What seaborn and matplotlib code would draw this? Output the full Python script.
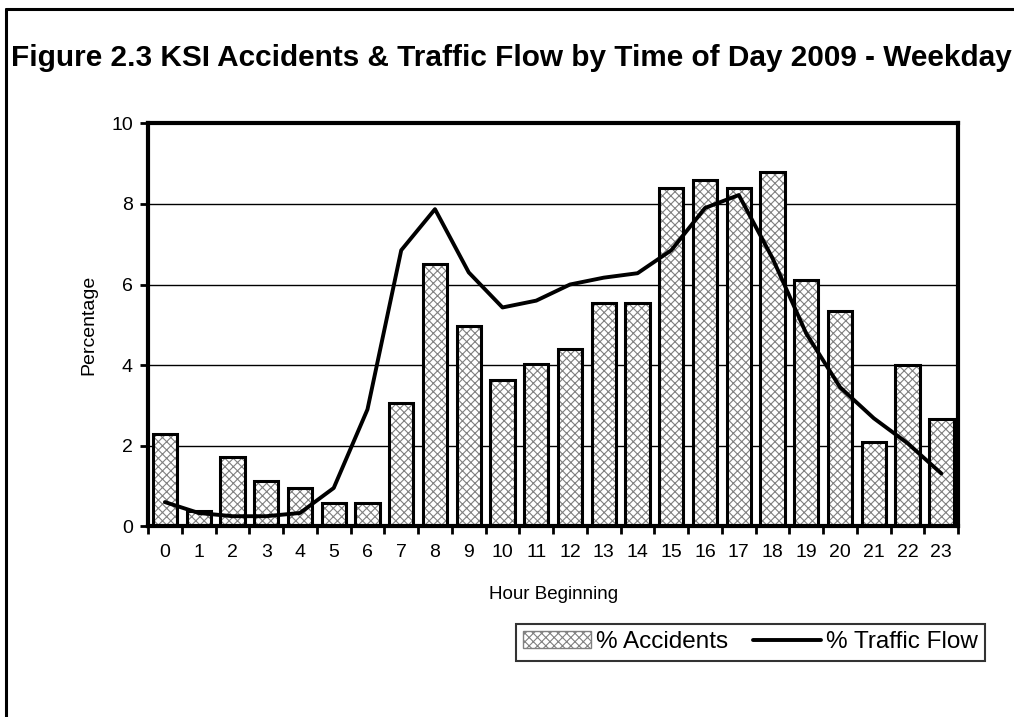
import matplotlib
matplotlib.use("Agg")
import matplotlib.pyplot as plt
from matplotlib.patches import Rectangle, Patch
from matplotlib.lines import Line2D
import seaborn as sns

hours = list(range(24))
accidents = [2.3, 0.37, 1.72, 1.13, 0.95, 0.57, 0.57, 3.05, 6.5, 4.97, 3.63, 4.02,
             4.4, 5.55, 5.55, 8.4, 8.6, 8.4, 8.8, 6.1, 5.35, 2.1, 4.0, 2.67]
traffic = [0.6, 0.33, 0.25, 0.25, 0.33, 0.95, 2.9, 6.85, 7.87, 6.3, 5.43, 5.6,
           6.0, 6.17, 6.28, 6.85, 7.9, 8.22, 6.65, 4.78, 3.45, 2.68, 2.06, 1.31]
title = "Figure 2.3 KSI Accidents & Traffic Flow by Time of Day 2009 - Weekday"

sns.set_theme(style="white")
plt.rcParams["font.family"] = ["Liberation Sans", "DejaVu Sans"]
plt.rcParams["hatch.color"] = "#808080"
plt.rcParams["hatch.linewidth"] = 0.8
for k in ["text.color", "axes.labelcolor", "xtick.color", "ytick.color"]:
    plt.rcParams[k] = "black"

fig = plt.figure(figsize=(10.14, 7.17), dpi=100)
ax = fig.add_axes([0.146, 0.266, 0.799, 0.562])

sns.barplot(x=hours, y=accidents, color="white", edgecolor="#808080",
            linewidth=0, width=0.72, saturation=1, ax=ax, zorder=2)
for p in list(ax.patches):
    p.set_hatch("xxxx")
    p.set_facecolor("white")
    ax.add_patch(Rectangle(p.get_xy(), p.get_width(), p.get_height(), fill=False,
                           edgecolor="black", linewidth=2.2, zorder=3))

sns.lineplot(x=hours, y=traffic, color="black", linewidth=2.8, ax=ax, zorder=4)

ax.set_xlim(-0.5, 23.5)
ax.set_ylim(0, 10)
ax.set_yticks([0, 2, 4, 6, 8, 10])
ax.yaxis.grid(True, color="black", linewidth=1)
ax.set_axisbelow(True)
for s in ax.spines.values():
    s.set_visible(True)
    s.set_color("black")
    s.set_linewidth(3)

ax.set_xticks(hours)
ax.set_xticklabels([str(h) for h in hours], fontsize=14)
ax.set_xticks([h - 0.5 for h in hours] + [23.5], minor=True)
ax.tick_params(axis="x", which="major", length=0, pad=13)
ax.tick_params(axis="x", which="minor", length=6, width=2, color="black", direction="out", bottom=True)
ax.tick_params(axis="y", length=6, width=2, color="black", direction="out", left=True, labelsize=14, pad=5)
ax.set_xlabel("Hour Beginning", fontsize=13.5, labelpad=18)
ax.set_ylabel("Percentage", fontsize=14, labelpad=10)

handles = [Patch(facecolor="white", edgecolor="#808080", hatch="xxxx", linewidth=1),
           Line2D([0], [0], color="black", linewidth=2.8)]
leg = fig.legend(handles, ["% Accidents", "% Traffic Flow"], loc="center",
                 bbox_to_anchor=(0.74, 0.104), ncol=2, fontsize=17.5, frameon=True,
                 fancybox=False, edgecolor="black", handlelength=2.8, handletextpad=0.2,
                 columnspacing=1.0, borderpad=0.3)
leg.get_frame().set_linewidth(1.5)

fig.text(0.011, 0.919, title, fontsize=21.4, fontweight="bold", ha="left", va="center")
fig.add_artist(Line2D([0.006, 0.006], [0.0, 0.9874], transform=fig.transFigure,
                      color="black", linewidth=2.2))
fig.add_artist(Line2D([0.006, 1.0], [0.9874, 0.9874], transform=fig.transFigure,
                      color="black", linewidth=2.2))

fig.savefig("out.png", dpi=100)
